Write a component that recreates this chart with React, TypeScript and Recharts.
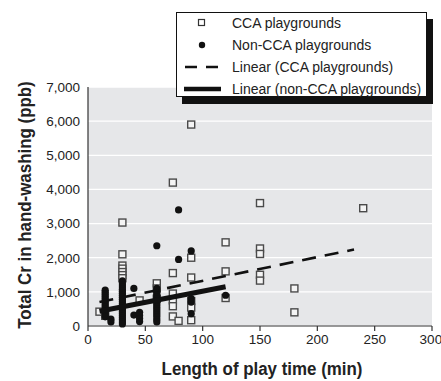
import React from 'react';
import { ScatterChart, Scatter, XAxis, YAxis, CartesianGrid } from 'recharts';

// CCA playgrounds: play time (min) and total Cr (ppb)
const ccaTime = [10, 15, 30, 30, 30, 30, 30, 30, 30, 45, 60, 60, 60, 74, 74, 74, 74, 74, 74, 79, 90, 90, 90, 90, 90, 90, 120, 120, 120, 150, 150, 150, 150, 150, 180, 180, 240];
const ccaCr = [420, 300, 3030, 2100, 1770, 1680, 1580, 1490, 1400, 750, 1250, 1100, 800, 4200, 1550, 950, 750, 580, 280, 150, 5900, 2000, 1420, 730, 540, 170, 2450, 1600, 820, 3600, 2270, 2110, 1500, 1330, 1100, 400, 3450];

// non-CCA playgrounds
const nonTime = [
  15, 15, 15, 15, 15, 15, 15, 15, 15, 15, 15, 15, 15, 15,
  20, 20,
  30, 30, 30, 30, 30, 30, 30, 30, 30, 30, 30, 30, 30, 30, 30, 30, 30, 30, 30, 30, 30, 30,
  40, 40,
  45, 45, 45, 45,
  60, 60, 60, 60, 60, 60, 60, 60, 60, 60, 60, 60, 60, 60, 60, 60, 60, 60,
  79, 79,
  90, 90, 90, 90,
  120,
];
const nonCr = [
  1050, 990, 930, 870, 810, 750, 690, 630, 570, 510, 450, 390, 330, 270,
  200, 120,
  1320, 1260, 1200, 1140, 1080, 1020, 960, 900, 840, 780, 720, 660, 600, 540, 480, 420, 360, 300, 240, 180, 120, 60,
  1100, 320,
  400, 310, 220, 130,
  2350, 1100, 1040, 980, 920, 860, 800, 740, 680, 620, 560, 500, 440, 380, 320, 260, 190, 120,
  3400, 1950,
  2200, 800, 700, 360,
  900,
];

// linear trend lines (end points)
const ccaTrendTime = [10, 232];
const ccaTrendCr = [700, 2240];
const nonTrendTime = [10, 120];
const nonTrendCr = [430, 1150];

const xTicks = [0, 50, 100, 150, 200, 250, 300];
const yTicks = [0, 1000, 2000, 3000, 4000, 5000, 6000, 7000];

const font = "'Liberation Sans', Arial, sans-serif";

const toPoints = (xs: number[], ys: number[]) => xs.map((x, i) => ({ x, y: ys[i] }));

const Square = (p: any) => (
  <rect x={p.cx - 3.5} y={p.cy - 3.5} width={7} height={7} fill="#f4f4f4" stroke="#4a4a4a" strokeWidth={1.4} />
);
const Dot = (p: any) => <circle cx={p.cx} cy={p.cy} r={3.6} fill="#111" />;
const NoShape = () => <g />;

const legendRows = [
  { label: 'CCA playgrounds', kind: 'square' },
  { label: 'Non-CCA playgrounds', kind: 'dot' },
  { label: 'Linear (CCA playgrounds)', kind: 'dash' },
  { label: 'Linear (non-CCA playgrounds)', kind: 'solid' },
];

const LegendIcon = ({ kind }: { kind: string }) => (
  <svg width={40} height={22} style={{ position: 'absolute', left: 6, top: 0 }}>
    {kind === 'square' && <rect x={15.5} y={7.5} width={6} height={6} fill="#fff" stroke="#333" strokeWidth={1.2} />}
    {kind === 'dot' && <circle cx={19} cy={11} r={3.2} fill="#111" />}
    {kind === 'dash' && <line x1={2} y1={11} x2={38} y2={11} stroke="#111" strokeWidth={2.5} strokeDasharray="12 9" />}
    {kind === 'solid' && <line x1={1} y1={11} x2={38} y2={11} stroke="#111" strokeWidth={4.5} />}
  </svg>
);

const ChartLegend = () => (
  <div
    style={{
      position: 'absolute',
      left: 176,
      top: 12,
      width: 251,
      height: 85,
      boxSizing: 'border-box',
      border: '1px solid #111',
      background: '#fff',
      boxShadow: '6px 7px 0 #111',
      fontFamily: font,
      fontSize: 14,
      color: '#222',
    }}
  >
    {legendRows.map((r, i) => (
      <div key={r.label} style={{ position: 'absolute', left: 0, top: i * 22 - 1, height: 22, width: '100%' }}>
        <LegendIcon kind={r.kind} />
        <span style={{ position: 'absolute', left: 55, top: 0, lineHeight: '22px', whiteSpace: 'nowrap' }}>{r.label}</span>
      </div>
    ))}
  </div>
);

export default function App() {
  return (
    <div style={{ position: 'absolute', left: 0, top: 0, width: 441, height: 381, background: '#fff' }}>
      <ScatterChart width={441} height={381} margin={{ top: 87, right: 9, bottom: 0, left: 0 }}>
        <CartesianGrid vertical={false} stroke="#ffffff" strokeWidth={1.3} fill="#e6e7e9" fillOpacity={1} />
        <XAxis
          type="number"
          dataKey="x"
          domain={[0, 300]}
          ticks={xTicks}
          height={55}
          tickSize={5}
          tickMargin={3}
          axisLine={{ stroke: '#333', strokeWidth: 1.2 }}
          tickLine={{ stroke: '#333', strokeWidth: 1.2 }}
          tick={{ fill: '#222', fontSize: 13.5, fontFamily: font }}
          label={{
            content: () => (
              <text
                transform="translate(262 375) scale(0.89 1)"
                textAnchor="middle"
                fill="#222"
                fontFamily={font}
                fontWeight={700}
                fontSize={19}
              >
                Length of play time (min)
              </text>
            ),
          }}
        />
        <YAxis
          type="number"
          dataKey="y"
          domain={[0, 7000]}
          ticks={yTicks}
          width={88}
          tickLine={false}
          tickSize={6}
          tickMargin={2}
          axisLine={{ stroke: '#333', strokeWidth: 1.2 }}
          tick={{ fill: '#222', fontSize: 13.5, fontFamily: font }}
          tickFormatter={(v: number) => v.toLocaleString('en-US')}
          label={{
            content: () => (
              <text
                transform="translate(31 205) rotate(-90) scale(0.89 1)"
                textAnchor="middle"
                fill="#222"
                fontFamily={font}
                fontWeight={700}
                fontSize={19}
              >
                Total Cr in hand-washing (ppb)
              </text>
            ),
          }}
        />
        <Scatter data={toPoints(ccaTime, ccaCr)} shape={Square} isAnimationActive={false} />
        <Scatter data={toPoints(nonTime, nonCr)} shape={Dot} isAnimationActive={false} />
        <Scatter
          data={toPoints(ccaTrendTime, ccaTrendCr)}
          shape={NoShape}
          line={{ stroke: '#111', strokeWidth: 2.6, strokeDasharray: '14 9' }}
          isAnimationActive={false}
        />
        <Scatter
          data={toPoints(nonTrendTime, nonTrendCr)}
          shape={NoShape}
          line={{ stroke: '#111', strokeWidth: 5 }}
          isAnimationActive={false}
        />
      </ScatterChart>
      <ChartLegend />
    </div>
  );
}
